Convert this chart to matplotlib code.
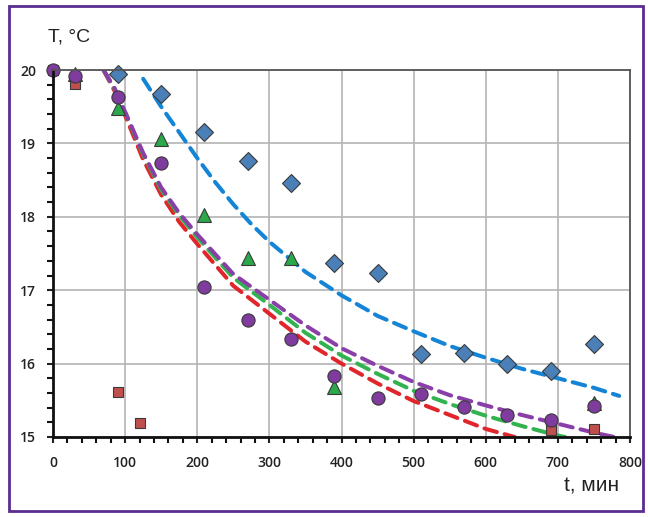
import matplotlib.pyplot as plt
from matplotlib.patches import Rectangle

# measured points
t_blue = [90, 150, 210, 270, 330, 390, 450, 510, 570, 630, 690, 750]
T_blue = [19.95, 19.67, 19.15, 18.76, 18.46, 17.37, 17.23, 16.13, 16.14, 16.0, 15.9, 16.27]

t_red = [0, 30, 90, 120, 690, 750]
T_red = [20.0, 19.81, 15.61, 15.19, 15.09, 15.11]

t_green = [30, 90, 150, 210, 270, 330, 390, 750]
T_green = [19.95, 19.48, 19.06, 18.02, 17.44, 17.44, 15.68, 15.46]

t_purple = [0, 30, 90, 150, 210, 270, 330, 390, 450, 510, 570, 630, 690, 750]
T_purple = [20.0, 19.92, 19.63, 18.73, 17.04, 16.6, 16.34, 15.83, 15.53, 15.59, 15.41, 15.3, 15.23, 15.42]

# model curves
tc_blue = [125, 150, 175, 200, 225, 250, 275, 300, 350, 400, 450, 500, 550, 600, 650, 700, 750, 785]
Tc_blue = [19.88, 19.5, 19.15, 18.8, 18.47, 18.17, 17.9, 17.66, 17.25, 16.93, 16.65, 16.44, 16.24, 16.08, 15.93, 15.8, 15.67, 15.56]

tc_red = [70, 85, 100, 125, 150, 175, 200, 250, 300, 350, 400, 450, 500, 550, 600, 640]
Tc_red = [20.0, 19.72, 19.38, 18.78, 18.3, 17.93, 17.63, 17.06, 16.68, 16.3, 16.0, 15.73, 15.49, 15.3, 15.11, 15.0]

tc_green = [70, 85, 100, 125, 150, 175, 200, 250, 300, 350, 400, 450, 500, 550, 600, 650, 700, 710]
Tc_green = [20.0, 19.75, 19.42, 18.85, 18.37, 18.02, 17.72, 17.17, 16.8, 16.42, 16.11, 15.86, 15.63, 15.45, 15.29, 15.15, 15.02, 15.0]

tc_purple = [70, 85, 100, 125, 150, 175, 200, 250, 300, 350, 400, 450, 500, 550, 600, 650, 700, 750, 778]
Tc_purple = [20.0, 19.76, 19.43, 18.87, 18.4, 18.05, 17.76, 17.22, 16.87, 16.52, 16.21, 15.97, 15.75, 15.57, 15.43, 15.3, 15.18, 15.06, 15.0]

fig = plt.figure(figsize=(6.48, 5.17), dpi=100)
ax = fig.add_axes([53/648, 1-437/517, (630-53)/648, (437-70)/517])

# purple frame around the whole picture
fig.patches.append(Rectangle((9/648, 6/517), (643-9)/648, (511-6)/517, transform=fig.transFigure,
                             fill=False, edgecolor='#5a2d91', lw=2))

dash = dict(lw=2.9, linestyle=(0, (3.2, 2.0)), dash_capstyle='round')
ax.plot(tc_blue, Tc_blue, color='#1484d6', **dash)
ax.plot(tc_red, Tc_red, color='#e0252b', **dash)
ax.plot(tc_green, Tc_green, color='#33b34f', **dash)
ax.plot(tc_purple, Tc_purple, color='#8a3fa8', **dash)

mk = dict(linestyle='none', markeredgecolor='#3a3a3a', markeredgewidth=0.8, clip_on=False)
ax.plot(t_blue, T_blue, marker='D', ms=9, color='#4a7fb8', **mk)
ax.plot(t_red, T_red, marker='s', ms=7.5, color='#c0504d', **mk)
ax.plot(t_green, T_green, marker='^', ms=9.5, color='#2aa84a', **mk)
ax.plot(t_purple, T_purple, marker='o', ms=9.5, color='#7f3b9d', **mk)

ax.set_xlim(0, 800)
ax.set_ylim(15, 20)
ax.set_xticks(range(0, 801, 100))
ax.set_yticks(range(15, 21))
ax.set_xticks(range(0, 801, 20), minor=True)
ax.set_yticks([15 + 0.2 * i for i in range(26)], minor=True)
ax.grid(True, which='major', color='#b4b4b4', lw=1.2)
ax.set_axisbelow(True)

for s in ['left', 'bottom']:
    ax.spines[s].set_color('#111111')
    ax.spines[s].set_linewidth(2)
for s in ['top', 'right']:
    ax.spines[s].set_color('#555555')
    ax.spines[s].set_linewidth(1.3)

ax.tick_params(which='both', direction='out', length=4, width=1.5, color='#111111')
ax.tick_params(axis='x', labelsize=10, pad=10, colors='#222222')
ax.tick_params(axis='y', labelsize=10, pad=8, colors='#222222')
for lab in ax.get_xticklabels() + ax.get_yticklabels():
    lab.set_fontfamily('Open Sans')
    lab.set_fontweight('semibold')

fig.text(69/648, 1-37/517, 'T, °C', fontsize=14, family='Liberation Sans', color='#222222',
         ha='center', va='center')
fig.text(592/648, 1-486/517, 't, мин', fontsize=15, family='Liberation Sans', color='#222222',
         ha='center', va='center')

fig.savefig('out.png', dpi=100)
